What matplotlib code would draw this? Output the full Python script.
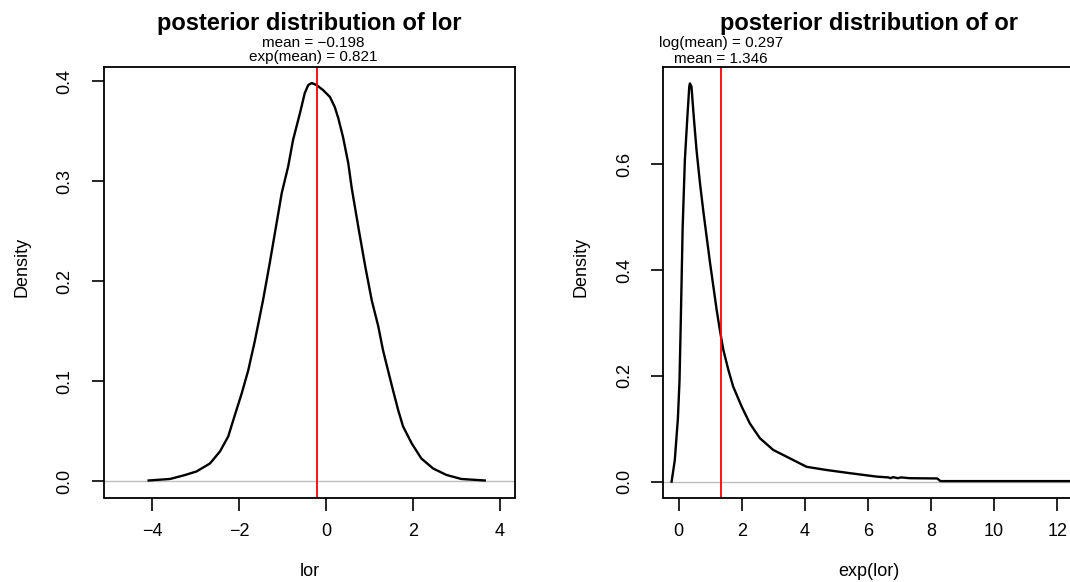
import matplotlib.pyplot as plt
import matplotlib.transforms as mtransforms

plt.rcParams['font.family'] = ['Liberation Sans', 'DejaVu Sans']

# posterior density of lor
lor_x = [-4.08, -3.59, -3.28, -2.98, -2.67, -2.44, -2.25, -2.10, -1.94, -1.79,
         -1.64, -1.45, -1.30, -1.15, -1.02, -0.87, -0.76, -0.60, -0.49, -0.41,
         -0.33, -0.22, -0.07, 0.09, 0.20, 0.28, 0.39, 0.51, 0.59, 0.75,
         0.90, 1.05, 1.20, 1.31, 1.43, 1.54, 1.66, 1.77, 1.97, 2.19,
         2.46, 2.77, 3.11, 3.65]
lor_y = [0.001, 0.0025, 0.006, 0.010, 0.018, 0.030, 0.045, 0.066, 0.088, 0.111,
         0.140, 0.181, 0.217, 0.255, 0.288, 0.315, 0.341, 0.368, 0.388, 0.396,
         0.398, 0.396, 0.391, 0.384, 0.374, 0.363, 0.344, 0.318, 0.293, 0.252,
         0.215, 0.181, 0.155, 0.131, 0.110, 0.091, 0.071, 0.055, 0.038, 0.023,
         0.013, 0.0065, 0.0025, 0.001]
lor_mean = -0.198

# posterior density of or = exp(lor)
or_x = [-0.22, -0.12, -0.02, 0.03, 0.07, 0.13, 0.20, 0.28, 0.34, 0.36,
        0.41, 0.49, 0.57, 0.68, 0.78, 0.89, 1.00, 1.12, 1.21, 1.30,
        1.42, 1.58, 1.73, 2.00, 2.26, 2.58, 3.00, 3.43, 4.06, 4.69,
        5.43, 6.28, 6.65, 6.72, 6.80, 6.95, 7.05, 7.33, 8.20, 8.30, 13.0]
or_y = [0.0, 0.04, 0.12, 0.19, 0.30, 0.48, 0.608, 0.690, 0.747, 0.753,
        0.747, 0.684, 0.627, 0.564, 0.514, 0.463, 0.413, 0.362, 0.324, 0.29,
        0.249, 0.211, 0.180, 0.142, 0.110, 0.082, 0.060, 0.047, 0.028, 0.022,
        0.016, 0.0095, 0.008, 0.0065, 0.0085, 0.0065, 0.008, 0.0065, 0.006, 0.001, 0.001]
or_mean = 1.346

W, H = 1070, 582
fig = plt.figure(figsize=(W / 100, H / 100), dpi=100)


def px_box(x0, y0, x1, y1):
    # pixel box -> figure fraction
    return [x0 / W, 1 - y1 / H, (x1 - x0) / W, (y1 - y0) / H]


def r_style(ax, xticks, yticks, xlim, ylim, xlabel):
    ax.set_xlim(*xlim)
    ax.set_ylim(*ylim)
    ax.set_xticks(xticks)
    ax.set_yticks(yticks)
    ax.set_yticklabels([f'{t:.1f}' for t in yticks], rotation=90, va='center')
    ax.tick_params(direction='out', length=9, width=1.2, labelsize=13)
    ax.tick_params(axis='x', pad=9)
    ax.tick_params(axis='y', pad=13)
    for s in ax.spines.values():
        s.set_linewidth(1.3)
    ax.set_xlabel(xlabel, fontsize=13, va='center')
    ax.set_ylabel('Density', fontsize=13, va='center')
    ax.xaxis.set_label_coords(0.5, -0.171)
    ax.yaxis.set_label_coords(-0.2, 0.535)


ax1 = fig.add_axes(px_box(104.3, 67, 514.8, 497.5))
ax1.plot(lor_x, lor_y, color='black', lw=1.7)
ax1.axhline(0, color='#bebebe', lw=1, zorder=1)
ax1.axvline(lor_mean, color='red', lw=1.3)
r_style(ax1, [-4, -2, 0, 2, 4], [0.0, 0.1, 0.2, 0.3, 0.4], (-5.10, 4.34), (-0.016, 0.414), 'lor')

ax2 = fig.add_axes(px_box(663.4, 67, 1074.5, 497.5))
ax2.plot(or_x, or_y, color='black', lw=1.7)
ax2.axhline(0, color='#bebebe', lw=1, zorder=1)
ax2.axvline(or_mean, color='red', lw=1.3)
r_style(ax2, [0, 2, 4, 6, 8, 10, 12], [0.0, 0.2, 0.4, 0.6], (-0.48, 12.55), (-0.030, 0.784), 'exp(lor)')

# titles and mean annotations
fig.text(309.5 / W, 1 - 30 / H, 'posterior distribution of lor', ha='center', va='baseline',
         fontsize=17, fontweight='bold')
fig.text(869 / W, 1 - 30 / H, 'posterior distribution of or', ha='center', va='baseline',
         fontsize=17, fontweight='bold')

tr1 = mtransforms.blended_transform_factory(ax1.transData, fig.transFigure)
ax1.text(-0.30, 1 - 47 / H, 'mean = \u22120.198', transform=tr1, ha='center', va='baseline', fontsize=11)
ax1.text(-0.30, 1 - 61 / H, 'exp(mean) = 0.821', transform=tr1, ha='center', va='baseline', fontsize=11)

tr2 = mtransforms.blended_transform_factory(ax2.transData, fig.transFigure)
ax2.text(or_mean, 1 - 47 / H, 'log(mean) = 0.297', transform=tr2, ha='center', va='baseline', fontsize=11)
ax2.text(or_mean, 1 - 63 / H, 'mean = 1.346', transform=tr2, ha='center', va='baseline', fontsize=11)

fig.savefig('out.png', dpi=100)
